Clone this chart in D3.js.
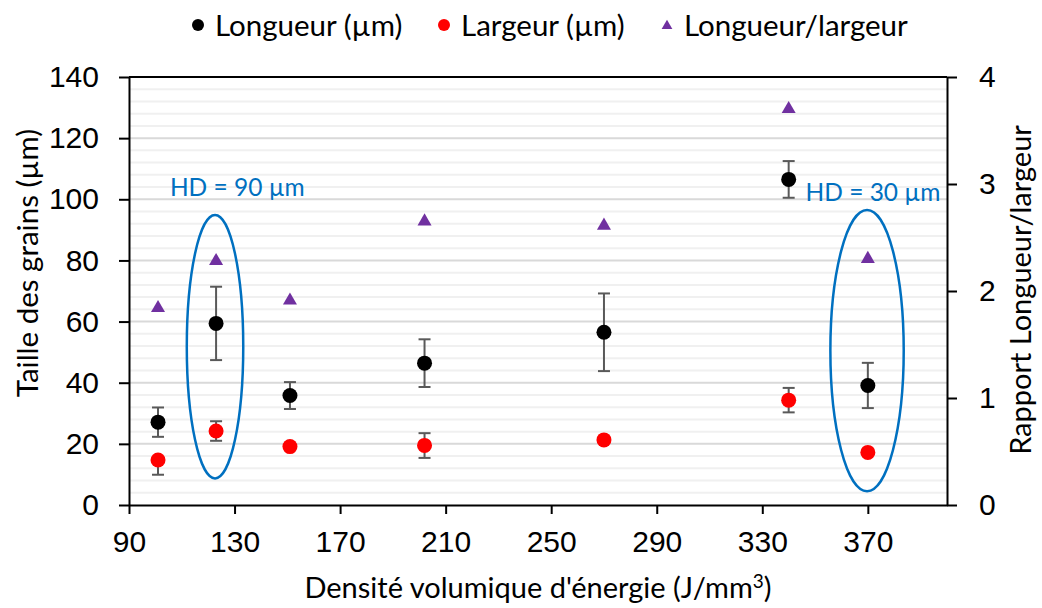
<!DOCTYPE html>
<html>
<head>
<meta charset="utf-8">
<script src="https://cdnjs.cloudflare.com/ajax/libs/d3/7.8.5/d3.min.js"></script>
<style>
  body { margin: 0; background: #fff; }
  svg { font-family: Lato, "Open Sans", sans-serif; }
  .axis text { font-size: 30px; fill: #000; }
  .axis path, .axis line { stroke: #000; stroke-width: 2; }
</style>
</head>
<body>
<script>
// Taille des grains vs densite volumique d'energie

// ----- Data -----
var energie = [101, 123, 151, 202, 270, 340, 370];
var longueur = [27.1, 59.4, 35.8, 46.4, 56.5, 106.5, 39.1];
var longueurErr = [4.8, 12.0, 4.4, 7.8, 12.7, 6.0, 7.4];
var largeur = [14.7, 24.2, 19.1, 19.5, 21.3, 34.3, 17.2];
var largeurErrHaut = [0, 3.2, 0, 4.0, 0, 4.0, 0];
var largeurErrBas = [4.8, 3.2, 0, 4.1, 0, 4.0, 0];
var ratio = [1.85, 2.29, 1.92, 2.66, 2.62, 3.71, 2.31];

var xTicks = [90, 130, 170, 210, 250, 290, 330, 370];
var yTicks = [0, 20, 40, 60, 80, 100, 120, 140];
var y2Ticks = [0, 1, 2, 3, 4];

// annotation ellipses (data units: center x, center y, half width, half height)
var groupes = [
  { label: "HD = 90 µm", cx: 122.6, cy: 51.8, rx: 10.7, ry: 43.1, lx: 105.5, ly: 104 },
  { label: "HD = 30 µm", cx: 369.7, cy: 50.5, rx: 13.9, ry: 46.0, lx: 346.4, ly: 102.4 }
];

// ----- Page dimensions -----
var W = 1042, H = 608;
var margin = { top: 77, right: 95, bottom: 103, left: 129 },
  width = W - margin.left - margin.right,
  height = H - margin.top - margin.bottom;

var svg = d3.select("body").append("svg")
  .attr("width", W)
  .attr("height", H);

var chart = svg.append("g")
  .attr("transform", "translate(" + margin.left + "," + margin.top + ")");

// scales
var x = d3.scaleLinear().domain([90, 400]).range([0, width]);
var y = d3.scaleLinear().domain([0, 140]).range([height, 0]);
var y2 = d3.scaleLinear().domain([0, 4]).range([height, 0]);

// grid lines (minor every 4, major every 20)
chart.append("g").selectAll("line")
  .data(d3.range(4, 140, 4).filter(function(v) { return v % 20 != 0; }))
  .enter().append("line")
  .attr("x1", 0).attr("x2", width)
  .attr("y1", function(d) { return y(d); })
  .attr("y2", function(d) { return y(d); })
  .attr("stroke", "#f0f0f0")
  .attr("stroke-width", 2);

chart.append("g").selectAll("line")
  .data(yTicks.slice(1))
  .enter().append("line")
  .attr("x1", 0).attr("x2", width)
  .attr("y1", function(d) { return y(d); })
  .attr("y2", function(d) { return y(d); })
  .attr("stroke", "#d9d9d9")
  .attr("stroke-width", 2);

// axes
var xAxis = d3.axisBottom(x).tickValues(xTicks).tickSize(9).tickPadding(17).tickSizeOuter(0);
var yAxis = d3.axisLeft(y).tickValues(yTicks).tickSize(10).tickPadding(20).tickSizeOuter(0);
var yAxis2 = d3.axisRight(y2).tickValues(y2Ticks).tickFormat(d3.format("d"))
  .tickSize(10).tickPadding(22).tickSizeOuter(0);

chart.append("g")
  .attr("class", "x axis")
  .attr("transform", "translate(0," + height + ")")
  .call(xAxis);

chart.append("g")
  .attr("class", "y axis")
  .call(yAxis);

chart.append("g")
  .attr("class", "y axis")
  .attr("transform", "translate(" + width + ",0)")
  .call(yAxis2);

// top border
chart.append("line")
  .attr("x1", 0).attr("x2", width)
  .attr("y1", 0).attr("y2", 0)
  .attr("stroke", "#000")
  .attr("stroke-width", 2);

// ellipses + labels
groupes.forEach(function(g) {
  chart.append("ellipse")
    .attr("cx", x(g.cx))
    .attr("cy", y(g.cy))
    .attr("rx", x(g.cx + g.rx) - x(g.cx))
    .attr("ry", y(0) - y(g.ry))
    .attr("fill", "none")
    .attr("stroke", "#0070c0")
    .attr("stroke-width", 2.5);

  chart.append("text")
    .attr("x", x(g.lx))
    .attr("y", y(g.ly))
    .attr("dy", "0.35em")
    .attr("fill", "#0070c0")
    .style("font-size", "24.5px")
    .text(g.label);
});

// error bars
function errorBar(px, top, bottom) {
  var eb = chart.append("g")
    .attr("stroke", "#595959")
    .attr("stroke-width", 2);
  eb.append("line").attr("x1", px).attr("x2", px).attr("y1", top).attr("y2", bottom);
  eb.append("line").attr("x1", px - 6).attr("x2", px + 6).attr("y1", top).attr("y2", top);
  eb.append("line").attr("x1", px - 6).attr("x2", px + 6).attr("y1", bottom).attr("y2", bottom);
}

energie.forEach(function(e, i) {
  errorBar(x(e), y(longueur[i] + longueurErr[i]), y(longueur[i] - longueurErr[i]));
  if (largeurErrHaut[i] > 0 || largeurErrBas[i] > 0) {
    errorBar(x(e), y(largeur[i] + largeurErrHaut[i]), y(largeur[i] - largeurErrBas[i]));
  }
});

// points
chart.selectAll(".longueur")
  .data(energie)
  .enter().append("circle")
  .attr("class", "longueur")
  .attr("cx", function(d) { return x(d); })
  .attr("cy", function(d, i) { return y(longueur[i]); })
  .attr("r", 7.5)
  .attr("fill", "#000");

chart.selectAll(".largeur")
  .data(energie)
  .enter().append("circle")
  .attr("class", "largeur")
  .attr("cx", function(d) { return x(d); })
  .attr("cy", function(d, i) { return y(largeur[i]); })
  .attr("r", 7.5)
  .attr("fill", "#ff0000");

var tri = d3.symbol().type(d3.symbolTriangle).size(85);
chart.selectAll(".ratio")
  .data(energie)
  .enter().append("path")
  .attr("class", "ratio")
  .attr("d", tri)
  .attr("transform", function(d, i) { return "translate(" + x(d) + "," + (y2(ratio[i]) + 1) + ")"; })
  .attr("fill", "#7030a0");

// axis titles
var xTitle = svg.append("text")
  .attr("x", margin.left + width / 2)
  .attr("y", 598)
  .attr("text-anchor", "middle")
  .style("font-size", "29px");
xTitle.append("tspan").text("Densité volumique d'énergie (J/mm");
xTitle.append("tspan")
  .attr("dy", -10)
  .style("font-size", "19px")
  .text("3");
xTitle.append("tspan")
  .attr("dy", 10)
  .text(")");

svg.append("text")
  .attr("transform", "translate(38,263) rotate(-90)")
  .attr("text-anchor", "middle")
  .style("font-size", "29.5px")
  .text("Taille des grains (µm)");

svg.append("text")
  .attr("transform", "translate(1031,290) rotate(-90)")
  .attr("text-anchor", "middle")
  .style("font-size", "29px")
  .text("Rapport Longueur/largeur");

// legend
var legend = [
  { label: "Longueur (µm)", x: 198, type: "dot", color: "#000" },
  { label: "Largeur (µm)", x: 444, type: "dot", color: "#ff0000" },
  { label: "Longueur/largeur", x: 667, type: "tri", color: "#7030a0" }
];
var lg = svg.append("g").attr("transform", "translate(0,25)");
legend.forEach(function(l) {
  if (l.type == "dot") {
    lg.append("circle").attr("cx", l.x).attr("cy", 0).attr("r", 6).attr("fill", l.color);
  } else {
    lg.append("path").attr("d", d3.symbol().type(d3.symbolTriangle).size(50))
      .attr("transform", "translate(" + l.x + ",1)").attr("fill", l.color);
  }
  lg.append("text")
    .attr("x", l.x + 17)
    .attr("y", 0)
    .attr("dy", "0.36em")
    .style("font-size", "29.5px")
    .text(l.label);
});
</script>
</body>
</html>
